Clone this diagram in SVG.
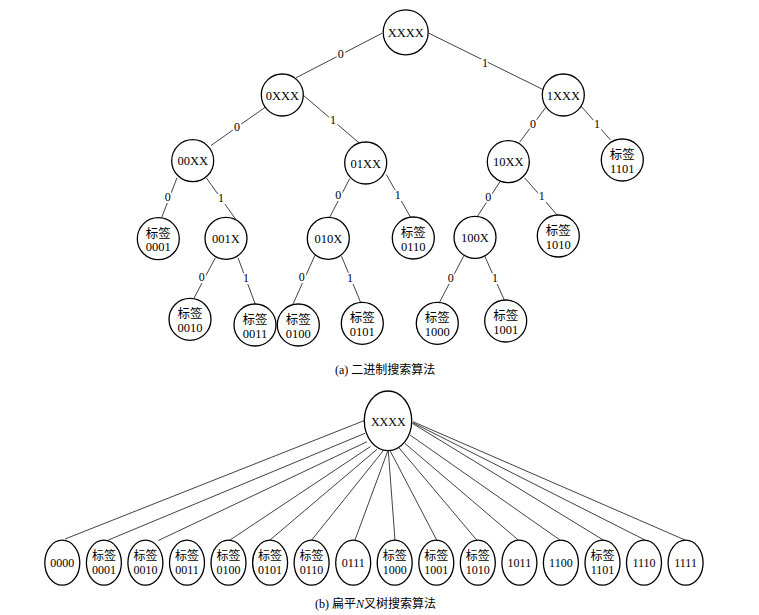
<svg xmlns="http://www.w3.org/2000/svg" width="759" height="615" viewBox="0 0 759 615">
<style>
.n{fill:#fff;stroke:#000;stroke-width:1.3}
.e{stroke:#111;stroke-width:0.8;fill:none}
.t{font-family:"Liberation Serif","Noto Sans CJK SC",serif;font-size:12.5px;fill:#000;text-anchor:middle}
.s{font-size:12px}
.l{font-family:"Liberation Serif",serif;font-size:12px;fill:#000;text-anchor:middle;stroke:#fff;stroke-width:4;paint-order:stroke}
.c{font-family:"Liberation Serif","Noto Sans CJK SC",serif;font-size:12px;fill:#000}
</style>
<rect width="759" height="615" fill="#fff"/>
<g id="connectors">
<line class="e" x1="382" y1="33.3" x2="296" y2="77.8"/>
<line class="e" x1="429" y1="33.3" x2="546" y2="91"/>
<line class="e" x1="265.5" y1="107" x2="211" y2="145.5"/>
<line class="e" x1="303" y1="95" x2="361" y2="144.5"/>
<line class="e" x1="545.5" y1="107.8" x2="519.5" y2="142.3"/>
<line class="e" x1="581.3" y1="106.3" x2="610.5" y2="140"/>
<line class="e" x1="177" y1="177.8" x2="161.5" y2="218"/>
<line class="e" x1="206.3" y1="177.8" x2="235.5" y2="219"/>
<line class="e" x1="349.6" y1="178.8" x2="329.7" y2="217.3"/>
<line class="e" x1="386.3" y1="174.5" x2="411" y2="218"/>
<line class="e" x1="215.3" y1="257.8" x2="191.3" y2="303.3"/>
<line class="e" x1="238" y1="257.8" x2="255.2" y2="304"/>
<line class="e" x1="315.3" y1="254.5" x2="293" y2="304"/>
<line class="e" x1="341.5" y1="256.2" x2="361" y2="303.3"/>
<line class="e" x1="500.3" y1="181.2" x2="476.3" y2="218"/>
<line class="e" x1="524.6" y1="177.8" x2="557.7" y2="215.5"/>
<line class="e" x1="463.6" y1="256.2" x2="439" y2="303.3"/>
<line class="e" x1="484.8" y1="256.2" x2="505.3" y2="302.3"/>
<line class="e" x1="364" y1="420.7" x2="65" y2="539"/>
<line class="e" x1="365" y1="433.3" x2="108.3" y2="540"/>
<line class="e" x1="367" y1="441.7" x2="158.3" y2="540.5"/>
<line class="e" x1="370.5" y1="446.5" x2="230" y2="540"/>
<line class="e" x1="377" y1="449.3" x2="270" y2="540"/>
<line class="e" x1="383.3" y1="450.7" x2="311.7" y2="540"/>
<line class="e" x1="387.7" y1="451.2" x2="355" y2="540"/>
<line class="e" x1="388.3" y1="450.7" x2="395" y2="540.3"/>
<line class="e" x1="390" y1="450.5" x2="436.7" y2="540"/>
<line class="e" x1="398.3" y1="447" x2="476.7" y2="540"/>
<line class="e" x1="405" y1="443.5" x2="518.3" y2="540"/>
<line class="e" x1="410" y1="435" x2="560" y2="540"/>
<line class="e" x1="412.3" y1="423.3" x2="603.3" y2="540"/>
<line class="e" x1="412.8" y1="422.7" x2="645" y2="540"/>
<line class="e" x1="413" y1="421.7" x2="685" y2="540"/>
</g>
<g id="edge-labels">
<text class="l" x="340.7" y="58.3">0</text>
<text class="l" x="485" y="66.7">1</text>
<text class="l" x="237" y="131">0</text>
<text class="l" x="333" y="124">1</text>
<text class="l" x="533" y="128">0</text>
<text class="l" x="597" y="127.5">1</text>
<text class="l" x="167.7" y="200.7">0</text>
<text class="l" x="221" y="201.7">1</text>
<text class="l" x="338.3" y="199">0</text>
<text class="l" x="397.7" y="199">1</text>
<text class="l" x="201.7" y="280.7">0</text>
<text class="l" x="246" y="282.3">1</text>
<text class="l" x="301.7" y="281.3">0</text>
<text class="l" x="350" y="282.3">1</text>
<text class="l" x="488.3" y="201.3">0</text>
<text class="l" x="541.7" y="199.7">1</text>
<text class="l" x="450.7" y="282.3">0</text>
<text class="l" x="495" y="282.3">1</text>
</g>
<g id="n-XXXX"><circle class="n" cx="405.7" cy="32.3" r="22.5"/><text class="t" x="405.7" y="36.8">XXXX</text></g>
<g id="n-0XXX"><circle class="n" cx="282.3" cy="95" r="21"/><text class="t" x="282.3" y="99.5">0XXX</text></g>
<g id="n-1XXX"><circle class="n" cx="563.3" cy="95" r="21"/><text class="t" x="563.3" y="99.5">1XXX</text></g>
<g id="n-00XX"><circle class="n" cx="192.7" cy="160.7" r="21"/><text class="t" x="192.7" y="165.2">00XX</text></g>
<g id="n-01XX"><circle class="n" cx="365.7" cy="163" r="21"/><text class="t" x="365.7" y="167.5">01XX</text></g>
<g id="n-10XX"><circle class="n" cx="508.3" cy="161.7" r="21"/><text class="t" x="508.3" y="166.2">10XX</text></g>
<g id="n-1101"><circle class="n" cx="622.3" cy="160" r="21"/><text class="t" x="622.3" y="159">标签</text><text class="t" x="622.3" y="172.5">1101</text></g>
<g id="n-0001"><circle class="n" cx="158.3" cy="238.7" r="21"/><text class="t" x="158.3" y="237.7">标签</text><text class="t" x="158.3" y="251.2">0001</text></g>
<g id="n-001X"><circle class="n" cx="226" cy="238.3" r="21"/><text class="t" x="226" y="242.8">001X</text></g>
<g id="n-010X"><circle class="n" cx="328.3" cy="238.3" r="21"/><text class="t" x="328.3" y="242.8">010X</text></g>
<g id="n-0110"><circle class="n" cx="413.3" cy="238" r="21"/><text class="t" x="413.3" y="237">标签</text><text class="t" x="413.3" y="250.5">0110</text></g>
<g id="n-100X"><circle class="n" cx="475" cy="237.3" r="21"/><text class="t" x="475" y="241.8">100X</text></g>
<g id="n-1010"><circle class="n" cx="558.3" cy="236" r="21"/><text class="t" x="558.3" y="235">标签</text><text class="t" x="558.3" y="248.5">1010</text></g>
<g id="n-0010"><circle class="n" cx="190" cy="319.3" r="21"/><text class="t" x="190" y="318.3">标签</text><text class="t" x="190" y="331.8">0010</text></g>
<g id="n-0011"><circle class="n" cx="255" cy="325" r="21"/><text class="t" x="255" y="324">标签</text><text class="t" x="255" y="337.5">0011</text></g>
<g id="n-0100"><circle class="n" cx="298.3" cy="325" r="21"/><text class="t" x="298.3" y="324">标签</text><text class="t" x="298.3" y="337.5">0100</text></g>
<g id="n-0101"><circle class="n" cx="362.3" cy="323.3" r="21"/><text class="t" x="362.3" y="322.3">标签</text><text class="t" x="362.3" y="335.8">0101</text></g>
<g id="n-1000"><circle class="n" cx="437.3" cy="323.3" r="21"/><text class="t" x="437.3" y="322.3">标签</text><text class="t" x="437.3" y="335.8">1000</text></g>
<g id="n-1001"><circle class="n" cx="505.7" cy="321" r="21"/><text class="t" x="505.7" y="320">标签</text><text class="t" x="505.7" y="333.5">1001</text></g>
<text class="c" x="335" y="374">(a)  二进制搜索算法</text>
<g id="b-XXXX"><ellipse class="n" cx="388" cy="420.8" rx="23.7" ry="29.8"/><text class="t s" x="388.3" y="426">XXXX</text></g>
<g id="b-0000"><ellipse class="n" cx="62.3" cy="562.7" rx="17.5" ry="22.5"/><text class="t s" x="62.3" y="567">0000</text></g>
<g id="b-0001"><ellipse class="n" cx="103.9" cy="562.7" rx="17.5" ry="22.5"/><text class="t s" x="103.9" y="559.7">标签</text><text class="t s" x="103.9" y="574.2">0001</text></g>
<g id="b-0010"><ellipse class="n" cx="145.4" cy="562.7" rx="17.5" ry="22.5"/><text class="t s" x="145.4" y="559.7">标签</text><text class="t s" x="145.4" y="574.2">0010</text></g>
<g id="b-0011"><ellipse class="n" cx="187" cy="562.7" rx="17.5" ry="22.5"/><text class="t s" x="187" y="559.7">标签</text><text class="t s" x="187" y="574.2">0011</text></g>
<g id="b-0100"><ellipse class="n" cx="228.5" cy="562.7" rx="17.5" ry="22.5"/><text class="t s" x="228.5" y="559.7">标签</text><text class="t s" x="228.5" y="574.2">0100</text></g>
<g id="b-0101"><ellipse class="n" cx="270.1" cy="562.7" rx="17.5" ry="22.5"/><text class="t s" x="270.1" y="559.7">标签</text><text class="t s" x="270.1" y="574.2">0101</text></g>
<g id="b-0110"><ellipse class="n" cx="311.6" cy="562.7" rx="17.5" ry="22.5"/><text class="t s" x="311.6" y="559.7">标签</text><text class="t s" x="311.6" y="574.2">0110</text></g>
<g id="b-0111"><ellipse class="n" cx="353.2" cy="562.7" rx="17.5" ry="22.5"/><text class="t s" x="353.2" y="567">0111</text></g>
<g id="b-1000"><ellipse class="n" cx="394.7" cy="562.7" rx="17.5" ry="22.5"/><text class="t s" x="394.7" y="559.7">标签</text><text class="t s" x="394.7" y="574.2">1000</text></g>
<g id="b-1001"><ellipse class="n" cx="436.3" cy="562.7" rx="17.5" ry="22.5"/><text class="t s" x="436.3" y="559.7">标签</text><text class="t s" x="436.3" y="574.2">1001</text></g>
<g id="b-1010"><ellipse class="n" cx="477.8" cy="562.7" rx="17.5" ry="22.5"/><text class="t s" x="477.8" y="559.7">标签</text><text class="t s" x="477.8" y="574.2">1010</text></g>
<g id="b-1011"><ellipse class="n" cx="519.4" cy="562.7" rx="17.5" ry="22.5"/><text class="t s" x="519.4" y="567">1011</text></g>
<g id="b-1100"><ellipse class="n" cx="560.9" cy="562.7" rx="17.5" ry="22.5"/><text class="t s" x="560.9" y="567">1100</text></g>
<g id="b-1101"><ellipse class="n" cx="602.5" cy="562.7" rx="17.5" ry="22.5"/><text class="t s" x="602.5" y="559.7">标签</text><text class="t s" x="602.5" y="574.2">1101</text></g>
<g id="b-1110"><ellipse class="n" cx="644" cy="562.7" rx="17.5" ry="22.5"/><text class="t s" x="644" y="567">1110</text></g>
<g id="b-1111"><ellipse class="n" cx="685.6" cy="562.7" rx="17.5" ry="22.5"/><text class="t s" x="685.6" y="567">1111</text></g>
<text class="c" x="315" y="608">(b) 扁平<tspan font-style="italic">N</tspan>叉树搜索算法</text>
</svg>
